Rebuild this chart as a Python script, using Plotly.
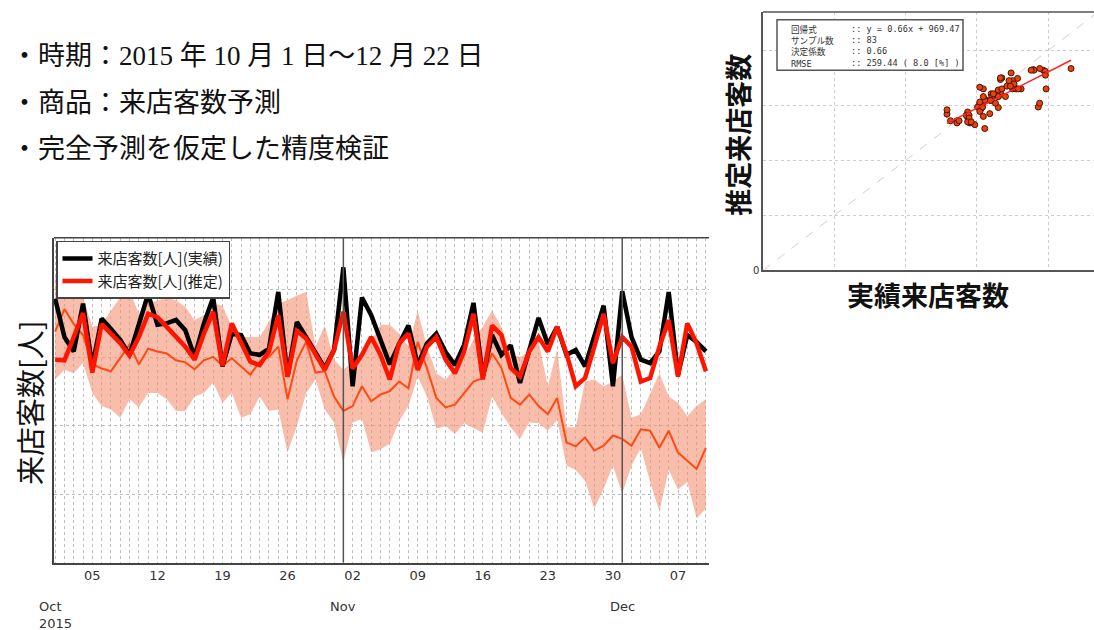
import pandas as pd
import plotly.graph_objects as go

# ---- data -------------------------------------------------------------
start_date = "2015-10-01"
n_days = 71

# actual visitor count
actual = [3860, 3300, 3090, 3790, 2870, 3570, 3420, 3260, 3040, 3500,
          3930, 3480, 3500, 3550, 3400, 3010, 3500, 3880, 2870, 3350,
          3330, 3060, 3040, 3130, 3960, 2720, 3520, 3300, 3090, 2850,
          3110, 4320, 2580, 3880, 3620, 3260, 2900, 3200, 3470, 2890,
          3210, 3350, 3080, 2890, 3190, 3800, 2720, 3330, 3040, 3180,
          2630, 3110, 3580, 3190, 3450, 3040, 3110, 2870, 3300, 3760,
          2580, 3970, 3300, 2970, 2920, 3090, 3960, 2750, 3330, 3230,
          3090]

# estimated visitor count
estimate = [2970, 2960, 3300, 3650, 2780, 3490, 3350, 3210, 3030, 3300,
            3640, 3590, 3450, 3300, 3160, 2970, 3350, 3670, 2880, 3500,
            3230, 2940, 2890, 3090, 3620, 2720, 3390, 3280, 3050, 2820,
            3110, 3670, 2840, 3040, 3300, 3040, 2680, 3210, 3350, 2820,
            3160, 3300, 2970, 2770, 3090, 3640, 2680, 3470, 3330, 2850,
            2720, 3090, 3300, 3090, 3450, 3060, 2580, 2700, 3160, 3640,
            2920, 3300, 3160, 2650, 2700, 3160, 3550, 2720, 3500, 3210,
            2800]

# reference model (thin line)
baseline = [3380, 3710, 3490, 3330, 2910, 2840, 2800, 2990, 3190, 2900,
            3130, 3090, 3060, 2960, 2930, 2830, 2960, 3010, 2880, 2990,
            2870, 2750, 2940, 3010, 3160, 2390, 2960, 3230, 2780, 2800,
            2430, 2220, 2290, 2580, 2360, 2460, 2510, 2650, 2550, 3230,
            2840, 2410, 2270, 2310, 2480, 2650, 2700, 3060, 2850, 2410,
            2310, 2460, 2290, 2170, 2410, 1760, 1700, 1830, 1640, 1710,
            1860, 1810, 1710, 1950, 1930, 1680, 1930, 1610, 1490, 1370,
            1680]

# uncertainty band of the reference model
band_upper = [4170, 4290, 4260, 3880, 3450, 3480, 3690, 3880, 3980, 3640,
              3790, 3840, 3880, 3840, 3740, 3550, 3620, 3790, 3760, 3450,
              3300, 3300, 3300, 3520, 3790, 3840, 3910, 3960, 3160, 3470,
              2970, 2820, 2940, 3010, 3230, 3480, 3480, 3350, 3160, 3690,
              3160, 2770, 2680, 2830, 3010, 3260, 3450, 3690, 3450, 3040,
              3010, 3090, 3230, 2580, 3120, 1980, 1980, 2650, 2680, 2580,
              2650, 2750, 2120, 2170, 2480, 2770, 2430, 2340, 2140, 2290,
              2390]
band_lower = [2680, 2820, 2770, 2920, 2480, 2290, 2240, 2120, 2390, 2270,
              2480, 2480, 2390, 2220, 2220, 2430, 2480, 2630, 2340, 2480,
              2120, 2170, 2430, 2220, 2240, 1610, 2000, 2480, 2680, 2240,
              2050, 1470, 2050, 2100, 1610, 1660, 1740, 2070, 2290, 2720,
              2430, 1960, 2000, 1880, 2040, 1970, 1900, 2430, 2190, 1980,
              1810, 2050, 2040, 1930, 2090, 1420, 1350, 1200, 790, 1080,
              1420, 1010, 1420, 1680, 1180, 750, 1360, 1070, 1180, 650,
              790]

week_ticks = ["2015-10-05", "2015-10-12", "2015-10-19", "2015-10-26",
              "2015-11-02", "2015-11-09", "2015-11-16", "2015-11-23",
              "2015-11-30", "2015-12-07"]
week_labels = ["05", "12", "19", "26", "02", "09", "16", "23", "30", "07"]
month_starts = ["2015-11-01", "2015-12-01"]
month_labels = ["Oct<br>2015", "Nov", "Dec"]

reg_slope = 0.66
reg_intercept = 969.47
r2 = 0.66
rmse = 259.44
rmse_pct = 8.0
sample_count = 83

bullets = ["・時期：2015 年 10 月 1 日～12 月 22 日",
           "・商品：来店客数予測",
           "・完全予測を仮定した精度検証"]

# ---- figure -----------------------------------------------------------
W, H = 1094, 630
dates = pd.date_range(start_date, periods=n_days, freq="D")


def px_x(v):
    return v / W


def px_y(v):
    return (H - v) / H


JP = "Noto Sans CJK JP"
GRID = "#bdbdbd"
FRAME = "#444444"

fig = go.Figure()

# band
fig.add_trace(go.Scatter(x=dates, y=band_lower, mode="lines",
                         line=dict(width=0), showlegend=False,
                         hoverinfo="skip"))
fig.add_trace(go.Scatter(x=dates, y=band_upper, mode="lines",
                         line=dict(width=0), fill="tonexty",
                         fillcolor="rgba(245,145,115,0.6)",
                         showlegend=False, hoverinfo="skip"))
# thin reference line
fig.add_trace(go.Scatter(x=dates, y=baseline, mode="lines",
                         line=dict(color="#ff4a12", width=2),
                         showlegend=False))
# actual & estimate
fig.add_trace(go.Scatter(x=dates, y=actual, mode="lines",
                         name="来店客数[人](実績)",
                         line=dict(color="#000000", width=4.5)))
fig.add_trace(go.Scatter(x=dates, y=estimate, mode="lines",
                         name="来店客数[人](推定)",
                         line=dict(color="#ff1400", width=4.5)))

# scatter inset
fig.add_trace(go.Scatter(x=[0, 4700], y=[0, 4700], mode="lines",
                         xaxis="x2", yaxis="y2", showlegend=False,
                         line=dict(color="#cfcfcf", width=1, dash="dash")))
fig.add_trace(go.Scatter(x=actual, y=estimate, mode="markers",
                         xaxis="x2", yaxis="y2", showlegend=False,
                         marker=dict(size=6, color="#e8420e",
                                     line=dict(color="#4a1400", width=1))))
fit_x = [min(actual), max(actual)]
fit_y = [reg_slope * v + reg_intercept for v in fit_x]
fig.add_trace(go.Scatter(x=fit_x, y=fit_y, mode="lines",
                         xaxis="x2", yaxis="y2", showlegend=False,
                         line=dict(color="#ff2020", width=1.5)))

x_start = dates[0] - pd.Timedelta(hours=3)
x_end = pd.Timestamp("2015-12-10 08:00")

fig.update_layout(
    width=W, height=H,
    margin=dict(l=0, r=0, t=0, b=0),
    paper_bgcolor="white", plot_bgcolor="white",
    xaxis=dict(
        domain=[px_x(54), px_x(709)], anchor="y", type="date",
        range=[x_start, x_end],
        tickvals=week_ticks, ticktext=week_labels, ticks="",
        tickfont=dict(family="DejaVu Sans", size=13, color="#333"),
        showgrid=True, gridcolor=GRID, griddash="dot", gridwidth=1,
        minor=dict(dtick=86400000, tick0=start_date, showgrid=True,
                   gridcolor=GRID, griddash="dot", gridwidth=1),
        showline=True, linecolor=FRAME, linewidth=1.5, zeroline=False,
    ),
    yaxis=dict(
        domain=[px_y(568), px_y(240)], anchor="x",
        range=[0, 4754], dtick=1000, showticklabels=False, ticks="",
        showgrid=True, gridcolor=GRID, griddash="dot", gridwidth=1,
        showline=True, linecolor=FRAME, linewidth=1.5, zeroline=False,
    ),
    xaxis2=dict(
        domain=[px_x(763), 1.0], anchor="y2", range=[0, 4642],
        tickvals=[0, 1000, 2000, 3000, 4000], showticklabels=False,
        ticks="", showgrid=True, gridcolor="#cccccc", griddash="dot",
        showline=True, linecolor="#555", linewidth=1.5, zeroline=False,
    ),
    yaxis2=dict(
        domain=[px_y(273), px_y(12)], anchor="x2", range=[0, 4700],
        tickvals=[0, 1000, 2000, 3000, 4000],
        ticktext=["0", "", "", "", ""], ticks="",
        tickfont=dict(family="DejaVu Sans", size=10, color="#333"),
        showgrid=True, gridcolor="#cccccc", griddash="dot",
        showline=True, linecolor="#555", linewidth=1.5, zeroline=False,
    ),
    legend=dict(
        x=px_x(56), y=px_y(243), xanchor="left", yanchor="top",
        bgcolor="white", bordercolor=FRAME, borderwidth=1.5,
        font=dict(family=JP, size=15, color="#222"),
        traceorder="normal", tracegroupgap=0,
    ),
)

shapes = [
    # top frame lines
    dict(type="line", xref="paper", yref="paper",
         x0=px_x(54), x1=px_x(709), y0=px_y(240), y1=px_y(240),
         line=dict(color=FRAME, width=1.5)),
    dict(type="line", xref="paper", yref="paper",
         x0=px_x(763), x1=1.0, y0=px_y(12), y1=px_y(12),
         line=dict(color="#555", width=1.5)),
    # regression summary box
    dict(type="rect", xref="paper", yref="paper",
         x0=px_x(777), x1=px_x(963), y0=px_y(71), y1=px_y(20),
         fillcolor="white", line=dict(color="#555", width=1.5),
         layer="above"),
]
for m in month_starts:
    shapes.append(dict(type="line", xref="x", yref="y domain",
                       x0=m, x1=m, y0=0, y1=1,
                       line=dict(color="#555", width=1.5)))
fig.update_layout(shapes=shapes)

ann = []
# bullet text
for i, t in enumerate(bullets):
    ann.append(dict(text=t, xref="paper", yref="paper",
                    x=px_x(9), y=px_y(57 + i * 46.5),
                    xanchor="left", yanchor="middle", showarrow=False,
                    font=dict(family="Liberation Serif, " + JP, size=27,
                              color="#111")))
# month labels
for d, lab in zip(["2015-10-01"] + month_starts, month_labels):
    ann.append(dict(text=lab, xref="x", yref="paper", x=d,
                    y=px_y(603), xanchor="center", yanchor="top",
                    showarrow=False, align="left",
                    font=dict(family="DejaVu Sans", size=13, color="#333")))
# time-series y title
ann.append(dict(text="来店客数[人]", xref="paper", yref="paper",
                x=px_x(29), y=px_y(407), textangle=-90,
                xanchor="center", yanchor="middle", showarrow=False,
                font=dict(family=JP, size=29, color="#111")))
# scatter axis titles
ann.append(dict(text="<b>実績来店客数</b>", xref="paper", yref="paper",
                x=px_x(928), y=px_y(297), xanchor="center",
                yanchor="middle", showarrow=False,
                font=dict(family=JP, size=27, color="#111")))
ann.append(dict(text="<b>推定来店客数</b>", xref="paper", yref="paper",
                x=px_x(738), y=px_y(136), textangle=-90,
                xanchor="center", yanchor="middle", showarrow=False,
                font=dict(family=JP, size=27, color="#111")))
# regression summary
mono = "DejaVu Sans Mono, " + JP
ann.append(dict(text="回帰式<br>サンプル数<br>決定係数<br>RMSE",
                xref="paper", yref="paper", x=px_x(789), y=px_y(22),
                xanchor="left", yanchor="top", align="left",
                showarrow=False,
                font=dict(family=mono, size=8.6, color="#333")))
summary = (f":: y = {reg_slope:.2f}x + {reg_intercept:.2f}<br>"
           f":: {sample_count}<br>"
           f":: {r2:.2f}<br>"
           f":: {rmse:.2f} ( {rmse_pct:.1f} [%] )")
ann.append(dict(text=summary, xref="paper", yref="paper",
                x=px_x(849), y=px_y(22), xanchor="left", yanchor="top",
                align="left", showarrow=False,
                font=dict(family=mono, size=8.6, color="#333")))
fig.update_layout(annotations=ann)

fig.write_html("out.html", config={"displayModeBar": False})
